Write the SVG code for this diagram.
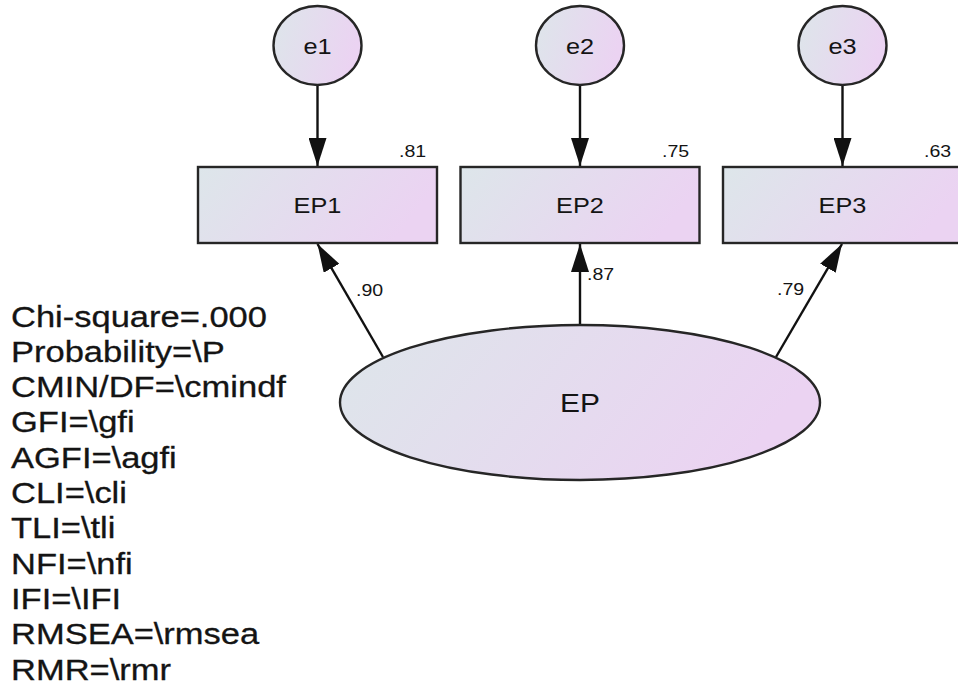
<svg xmlns="http://www.w3.org/2000/svg" width="958" height="690" viewBox="0 0 958 690">
<style>
.shape{stroke:#262626;stroke-width:2.4;fill:url(#g)}
.lbl{font-family:"Liberation Sans",Arial,sans-serif;fill:#141414}
.mid{text-anchor:middle}
.conn{stroke:#111;stroke-width:2.4;fill:none;marker-end:url(#ah)}
.stat{font-family:"Liberation Sans",Arial,sans-serif;font-size:30px;fill:#141414;stroke:#141414;stroke-width:0.3}
</style>
<defs>
<linearGradient id="g" x1="0" y1="0" x2="1" y2="0.25">
<stop offset="0" stop-color="#dde6ea"/>
<stop offset="1" stop-color="#ebd3f2"/>
</linearGradient>
<marker id="ah" markerUnits="userSpaceOnUse" markerWidth="28" markerHeight="18" refX="28" refY="9" orient="auto" viewBox="0 0 28 18">
<path d="M0,0 L28,9 L0,18 Z" fill="#111"/>
</marker>
</defs>
<rect width="958" height="690" fill="#fff"/>

<g id="connectors">
<line class="conn" x1="317.5" y1="85" x2="317.5" y2="166"/>
<line class="conn" x1="580" y1="85" x2="580" y2="166"/>
<line class="conn" x1="842.5" y1="85" x2="842.5" y2="166"/>
<line class="conn" x1="383" y1="357" x2="317.5" y2="244"/>
<line class="conn" x1="580" y1="325" x2="580" y2="244"/>
<line class="conn" x1="776" y1="357" x2="842" y2="244"/>
<text class="lbl" font-size="17" transform="translate(356,295.5) scale(1.15,1)">.90</text>
<text class="lbl" font-size="17" transform="translate(587,280) scale(1.15,1)">.87</text>
<text class="lbl" font-size="17" transform="translate(777,295) scale(1.15,1)">.79</text>
</g>

<g id="e1">
<ellipse class="shape" cx="317.5" cy="45.5" rx="44" ry="39.5"/>
<text class="lbl mid" font-size="22" transform="translate(317.5,54) scale(1.15,1)">e1</text>
</g>
<g id="e2">
<ellipse class="shape" cx="580" cy="45.5" rx="44" ry="39.5"/>
<text class="lbl mid" font-size="22" transform="translate(580,54) scale(1.15,1)">e2</text>
</g>
<g id="e3">
<ellipse class="shape" cx="842.5" cy="45.5" rx="44" ry="39.5"/>
<text class="lbl mid" font-size="22" transform="translate(842.5,54) scale(1.15,1)">e3</text>
</g>

<g id="EP1">
<rect class="shape" x="198" y="167" width="239" height="76"/>
<text class="lbl mid" font-size="22" transform="translate(317.5,213) scale(1.15,1)">EP1</text>
<text class="lbl" font-size="17" transform="translate(399,157) scale(1.15,1)">.81</text>
</g>
<g id="EP2">
<rect class="shape" x="460.5" y="167" width="239" height="76"/>
<text class="lbl mid" font-size="22" transform="translate(580,213) scale(1.15,1)">EP2</text>
<text class="lbl" font-size="17" transform="translate(662,157) scale(1.15,1)">.75</text>
</g>
<g id="EP3">
<rect class="shape" x="723" y="167" width="239" height="76"/>
<text class="lbl mid" font-size="22" transform="translate(842.5,213) scale(1.15,1)">EP3</text>
<text class="lbl" font-size="17" transform="translate(924,157) scale(1.15,1)">.63</text>
</g>

<g id="EP">
<ellipse class="shape" cx="580" cy="402.5" rx="240" ry="77.5"/>
<text class="lbl mid" font-size="26" transform="translate(580,412) scale(1.15,1)">EP</text>
</g>

<g id="fit-stats">
<text class="stat" transform="translate(11,326.5) scale(1.15,1)">Chi-square=.000</text>
<text class="stat" transform="translate(11,361.8) scale(1.15,1)">Probability=\P</text>
<text class="stat" transform="translate(11,397.1) scale(1.15,1)">CMIN/DF=\cmindf</text>
<text class="stat" transform="translate(11,432.4) scale(1.15,1)">GFI=\gfi</text>
<text class="stat" transform="translate(11,467.7) scale(1.15,1)">AGFI=\agfi</text>
<text class="stat" transform="translate(11,503) scale(1.15,1)">CLI=\cli</text>
<text class="stat" transform="translate(11,538.3) scale(1.15,1)">TLI=\tli</text>
<text class="stat" transform="translate(11,573.6) scale(1.15,1)">NFI=\nfi</text>
<text class="stat" transform="translate(11,608.9) scale(1.15,1)">IFI=\IFI</text>
<text class="stat" transform="translate(11,644.2) scale(1.15,1)">RMSEA=\rmsea</text>
<text class="stat" transform="translate(11,679.5) scale(1.15,1)">RMR=\rmr</text>
</g>
</svg>
